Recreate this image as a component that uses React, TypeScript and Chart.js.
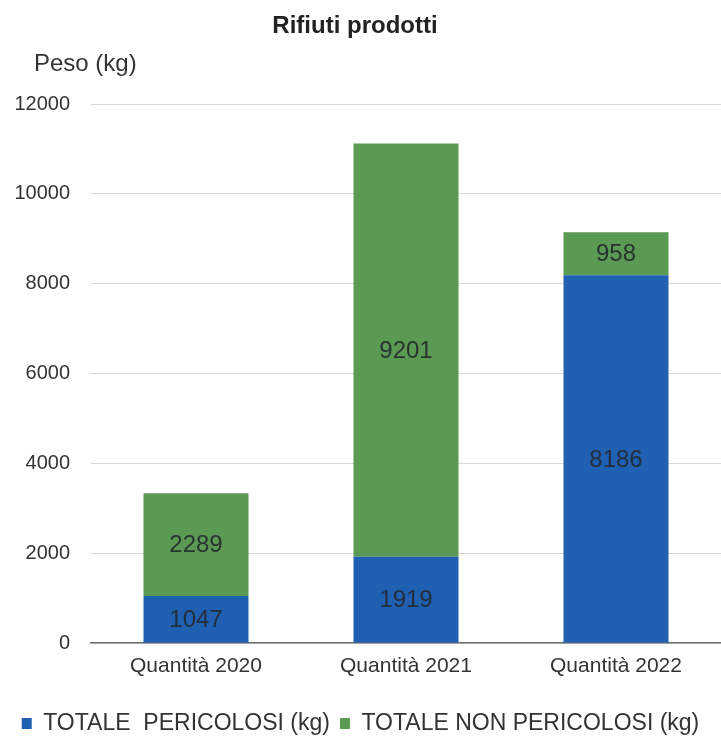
import React, { useEffect, useRef } from "react";
import { Chart, registerables } from "chart.js";

Chart.register(...registerables);

const categories = ["Quantità 2020", "Quantità 2021", "Quantità 2022"];
const pericolosi = [1047, 1919, 8186];
const nonPericolosi = [2289, 9201, 958];
const seriesLabels = ["TOTALE  PERICOLOSI (kg)", "TOTALE NON PERICOLOSI (kg)"];
const yTicks = [0, 2000, 4000, 6000, 8000, 10000, 12000];
const titleText = "Rifiuti prodotti";
const yTitle = "Peso (kg)";

const FONT = "'Liberation Sans', Arial, sans-serif";

const textPlugin = {
  id: "texts",
  afterDatasetsDraw(chart: any) {
    const ctx = chart.ctx;
    ctx.save();
    ctx.textAlign = "center";
    ctx.textBaseline = "middle";
    ctx.font = `24px ${FONT}`;
    ctx.fillStyle = "rgba(35,40,45,0.9)";
    chart.data.datasets.forEach((ds: any, i: number) => {
      const meta = chart.getDatasetMeta(i);
      meta.data.forEach((bar: any, j: number) => {
        const y = (bar.y + bar.base) / 2;
        ctx.fillText(String(ds.data[j]), bar.x, y + 1);
      });
    });
    ctx.restore();
  },
  afterDraw(chart: any) {
    const ctx = chart.ctx;
    ctx.save();
    ctx.fillStyle = "#222";
    ctx.textBaseline = "middle";
    ctx.textAlign = "center";
    ctx.font = `bold 24px ${FONT}`;
    ctx.fillText(titleText, 355, 26);
    ctx.textAlign = "left";
    ctx.font = `24px ${FONT}`;
    ctx.fillStyle = "#333";
    ctx.fillText(yTitle, 34, 64);
    ctx.restore();
  },
};

export default function App() {
  const ref = useRef<HTMLCanvasElement>(null);
  useEffect(() => {
    document.body.style.margin = "0";
    const chart = new Chart(ref.current as HTMLCanvasElement, {
      type: "bar",
      data: {
        labels: categories,
        datasets: [
          { label: seriesLabels[0], data: pericolosi, backgroundColor: "#1f60b2" },
          { label: seriesLabels[1], data: nonPericolosi, backgroundColor: "#5b9a52" },
        ],
      },
      options: {
        animation: false,
        responsive: false,
        layout: { padding: { top: 104, bottom: 2, left: 0, right: 0 } },
        datasets: { bar: { categoryPercentage: 1, barPercentage: 0.5 } },
        scales: {
          x: {
            stacked: true,
            grid: { display: false, drawTicks: false },
            border: { display: true, color: "#6f6f6f", width: 1.5 },
            ticks: { font: { family: FONT, size: 21 }, color: "#333", padding: 11 },
            afterFit(scale: any) { scale.height = 59; },
          },
          y: {
            stacked: true,
            min: 0,
            max: 12000,
            afterBuildTicks(scale: any) { scale.ticks = yTicks.map((v) => ({ value: v })); },
            grid: { color: "#d6d6d6", drawTicks: false, lineWidth: 1 },
            border: { display: false },
            ticks: {
              font: { family: FONT, size: 20 },
              color: "#333",
              padding: 21,
              callback: (v: any) => String(v),
            },
            afterFit(scale: any) { scale.width = 91; },
          },
        },
        plugins: {
          title: { display: false },
          tooltip: { enabled: false },
          legend: {
            position: "bottom",
            labels: {
              font: { family: FONT, size: 23 },
              color: "#333",
              boxWidth: 10,
              boxHeight: 11,
              padding: 10,
            },
          },
        },
      },
      plugins: [textPlugin],
    } as any);
    return () => chart.destroy();
  }, []);
  return <canvas ref={ref} width={721} height={747} style={{ display: "block" }} />;
}
